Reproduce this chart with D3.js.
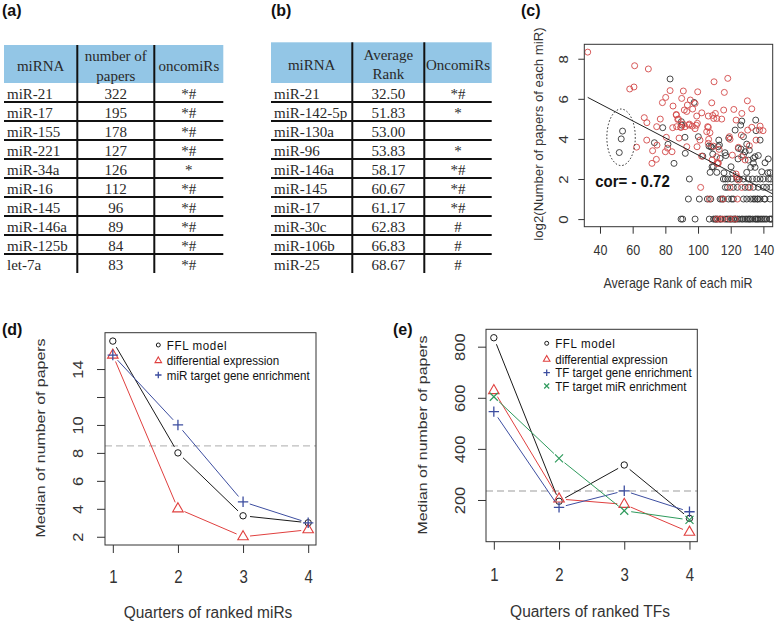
<!DOCTYPE html>
<html><head><meta charset="utf-8">
<script src="https://cdn.jsdelivr.net/npm/d3@7"></script>
<style>body{margin:0;background:#fff;} svg{display:block;}</style>
</head><body><svg id="fig" width="777" height="624"></svg>
<script>
// ---------------- DATA ----------------
const tableA_mirna  = ["miR-21","miR-17","miR-155","miR-221","miR-34a","miR-16","miR-145","miR-146a","miR-125b","let-7a"];
const tableA_papers = ["322","195","178","127","126","112","96","89","84","83"];
const tableA_onco   = ["*#","*#","*#","*#","*","*#","*#","*#","*#","*#"];
const tableB_mirna  = ["miR-21","miR-142-5p","miR-130a","miR-96","miR-146a","miR-145","miR-17","miR-30c","miR-106b","miR-25"];
const tableB_rank   = ["32.50","51.83","53.00","53.83","58.17","60.67","61.17","62.83","66.83","68.67"];
const tableB_onco   = ["*#","*","","*","*#","*#","*#","#","#","#"];

const cTicksX = [40,60,80,100,120,140];
const cTicksY = [0,2,4,6,8];
const corLabel = "cor= - 0.72";
const fitIntercept = 7.454, fitSlope = -0.04255;
const circledCenter = [52.9, 4.08], circledRadii = [8.7, 1.41];

const redPoints = [
 [32.5,8.33],[61.2,7.65],[69.6,7.49],[58.2,6.49],[60.8,6.59],[62.4,3.59],[67.1,5.06],[68.7,4.81],[68.6,3.94],
 [71.8,2.78],[74.5,2.98],[72.2,3.41],[74.7,4.61],[76.9,4.99],[74.9,3.69],[78.2,5.81],[80.2,6.07],[80.0,3.36],
 [80.6,4.08],[81.4,3.54],[82.9,6.41],[84.1,3.36],[84.7,5.64],[84.5,4.56],[86.7,5.19],[86.9,4.61],[88.0,4.99],
 [89.6,4.58],[90.0,6.02],[91.0,6.39],[91.0,4.73],[91.6,5.44],[88.4,4.04],[93.5,5.69],[95.3,5.94],[93.1,3.61],
 [94.5,4.69],[93.1,5.37],[96.7,5.49],[98.2,5.77],[99.2,5.14],[99.0,4.68],[99.6,4.78],[99.8,6.35],[99.4,3.61],
 [102.3,5.30],[102.2,3.14],[101.6,1.58],[105.3,4.36],[105.9,4.61],[106.5,3.98],[107.3,4.31],[108.4,5.80],
 [109.0,5.17],[109.8,6.85],[109.4,3.64],[110.6,5.27],[109.6,5.02],[111.5,5.02],[111.4,3.11],[111.8,2.78],
 [112.9,3.48],[114.5,4.99],[115.7,5.44],[116.1,6.32],[118.2,7.02],[119.6,3.98],[119.2,4.11],[121.9,5.47],
 [121.0,3.19],[123.3,4.94],[123.3,2.25],[124.7,3.58],[126.8,5.27],[126.5,4.19],[126.7,3.11],[130.2,5.90],
 [130.4,4.44],[131.4,3.66],[132.9,5.50],[132.9,4.58],[135.5,3.94],[138.0,4.64],[139.8,4.41],[137.6,4.44],
 [126.7,1.58],[131.8,1.58],[119.6,1.58],[106.9,1.0],[115.3,1.0],[124.1,1.0],[111.4,0],[113.1,0],[115.1,0],
 [119.6,0],[122.7,0],[108.6,2.95],[112.2,2.81],[123.7,2.11],[128.8,2.95],[101.2,3.94],[106.3,3.78],
 [112.4,2.78],[124.7,1.95],[106.3,5.14],[86.7,5.22],[87.6,4.97],[89.4,4.58],[92.1,4.61],[94.7,4.74],
 [96.5,4.64],[98.2,4.51],[106.3,4.58]
];
const blackPoints = [
 [82.9,6.99],[97.6,5.82],[78.4,4.56],[73.3,3.81],[81.6,3.73],[85.3,2.78],[89.8,4.86],[90.0,4.69],[92.0,4.08],
 [92.2,3.28],[94.7,2.0],[100.2,4.11],[102.9,3.14],[106.7,3.64],[107.8,3.61],[108.4,3.58],[109.0,3.24],
 [108.6,2.61],[112.4,3.61],[112.7,3.94],[113.1,3.69],[113.5,3.03],[115.9,2.31],[116.5,3.31],[118.8,4.04],
 [120.2,2.61],[121.2,2.28],[124.7,3.53],[126.1,4.69],[126.3,3.49],[126.8,4.89],[127.8,4.11],[127.8,3.19],
 [128.8,3.36],[129.8,2.33],[129.8,3.74],[130.8,2.94],[131.4,3.44],[132.2,2.58],[133.9,3.03],[133.9,2.78],
 [134.9,3.11],[134.9,2.58],[135.3,4.94],[135.5,4.41],[138.0,3.94],[139.0,2.36],[141.0,2.81],[142.7,2.31],
 [144.1,2.32],[122.7,4.44],[51.8,3.32],[53.0,4.0],[53.8,4.39],[107.4,2.33],[111.5,2.33],[109.4,2.61],
 [117.0,3.17],[124.5,3.0],[136.9,3.17],[143.0,3.0],
 [115.5,2],[116.7,2],[118.2,2],[120.6,2],[123.7,2],[125.3,2],[127.8,2],[130.8,2],[133.3,2],[135.9,2],[138.0,2],
 [140.0,2],[143.1,2],[144.5,2],
 [116.7,1.585],[118.0,1.585],[121.6,1.585],[124.1,1.585],[128.8,1.585],[130.8,1.585],[133.9,1.585],
 [136.9,1.585],[140.0,1.585],[142.0,1.585],[144.5,1.585],
 [94.1,1],[100.8,1],[105.7,1],[107.8,1],[113.5,1],[114.5,1],[115.5,1],[118.6,1],[120.6,1],[121.6,1],[127.8,1],
 [129.8,1],[132.2,1],[133.9,1],[134.9,1],[136.3,1],[136.6,1],[138.0,1],[140.6,1],[141.0,1],[144.1,1],
 [89.6,0],[90.6,0],[98.2,0],[106.9,0],[109.5,0],[110.5,0],[111.0,0],[112.0,0],[113.5,0],[114.0,0],[116.5,0],
 [117.6,0],[118.5,0],[119.6,0],[120.5,0],[121.6,0],[122.5,0],[123.0,0],[124.1,0],[125.3,0],[126.7,0],[127.5,0],
 [128.8,0],[129.8,0],[130.8,0],[131.5,0],[132.2,0],[133.5,0],[134.9,0],[135.5,0],[136.3,0],[137.0,0],[138.0,0],
 [139.0,0],[140.0,0],[141.0,0],[142.0,0],[143.7,0],[144.5,0],[145.1,0]
];

const quarters = [1,2,3,4];
const dTicksY = [2,4,6,8,10,12,14];
const dFFL    = [16, 8, 3.5, 3];
const dDiff   = [15, 4, 2, 2.5];
const dTarget = [15, 10, 4.5, 3];
const dBaseline = 8.5;
const dLegend = ["FFL model","differential expression","miR target gene enrichment"];

const eTicksY = [200,400,600,800];
const eFFL    = [835, 195, 337, 128];
const eDiff   = [628, 204, 183, 74];
const eTFgene = [546, 171, 236, 154];
const eTFmiR  = [604, 363, 158, 122];
const eBaseline = 235;
const eLegend = ["FFL model","differential expression","TF target gene enrichment","TF target miR enrichment"];

// ---------------- STYLE ----------------
const SANS = "'Liberation Sans', Arial, sans-serif";
const SERIF = "'Liberation Serif', 'Times New Roman', serif";
const HEADER_BLUE = "#93c6e6";
const RED = "#e0403f", BLUE = "#3d4ea0", GREEN = "#2e9a5c", BLK = "#1a1a1a", AX = "#333";
const SC_RED = "#d24848", SC_BLK = "#333";

const svg = d3.select("#fig");
svg.append("rect").attr("width",777).attr("height",624).attr("fill","#fff");

function label(g, x, y, s, o = {}) {
  const k = o.k || 1;
  return g.append("text")
    .attr("transform", `translate(${x},${y})` + (o.rot ? ` rotate(-90) scale(${k},1)` : ` scale(1,${k})`))
    .attr("text-anchor", o.anchor || "middle")
    .attr("dy", o.dy != null ? o.dy : "0.35em")
    .attr("font-family", o.font || SANS)
    .attr("font-size", o.size || 12)
    .attr("font-weight", o.weight || "normal")
    .attr("letter-spacing", o.ls || 0)
    .attr("fill", o.fill || "#222")
    .text(s);
}

// panel letters
[["(a)",2,16],["(b)",271,16],["(c)",521,16],["(d)",2,335],["(e)",393,335]].forEach(([s,x,y]) =>
  label(svg, x, y, s, {anchor:"start", dy:0, weight:"bold", size:16, fill:"#111"}));

// ---------------- TABLES ----------------
function drawTable(cols, top, headers, columns) {
  const g = svg.append("g");
  const rowY = d3.scaleBand().domain(d3.range(columns[0].length)).range([83, 273]);
  g.append("rect").attr("x", cols[0]).attr("y", top).attr("width", cols[3]-cols[0])
    .attr("height", 83-top).attr("fill", HEADER_BLUE);
  headers.forEach((h, j) => {
    const cx = (cols[j] + cols[j+1]) / 2;
    h.lines.forEach((ln, i) => label(g, cx, h.ys[i], ln, {font:SERIF, size:15, fill:"#2a2a2a"}));
  });
  columns.forEach((arr, j) => arr.forEach((v, i) => {
    const y = rowY(i) + rowY.bandwidth()/2 + 1;
    if (j === 0) label(g, cols[0]+3, y, v, {anchor:"start", font:SERIF, size:15, fill:"#2a2a2a"});
    else label(g, (cols[j]+cols[j+1])/2, y, v, {font:SERIF, size:15, fill:"#2a2a2a"});
  }));
  d3.range(columns[0].length - 1).forEach(i => {
    const y = rowY(i) + rowY.bandwidth();
    g.append("line").attr("x1", cols[0]).attr("x2", cols[3]).attr("y1", y).attr("y2", y)
      .attr("stroke", "#111").attr("stroke-width", 2);
  });
  [cols[1], cols[2]].forEach(x => g.append("line").attr("x1", x).attr("x2", x)
    .attr("y1", top).attr("y2", 273).attr("stroke", "#111").attr("stroke-width", 2));
}
drawTable([4, 77.3, 154.3, 223.3], 45,
  [{lines:["miRNA"], ys:[66]}, {lines:["number of","papers"], ys:[56,75.5]}, {lines:["oncomiRs"], ys:[66]}],
  [tableA_mirna, tableA_papers, tableA_onco]);
drawTable([271, 352.3, 424.3, 491.7], 42.3,
  [{lines:["miRNA"], ys:[64.5]}, {lines:["Average","Rank"], ys:[55,73.5]}, {lines:["OncomiRs"], ys:[65]}],
  [tableB_mirna, tableB_rank, tableB_onco]);

// ---------------- AXIS HELPERS ----------------
function styleAxisX(sel, off, size, k) {
  sel.select(".domain").remove();
  sel.selectAll(".tick line").attr("stroke", AX);
  sel.selectAll(".tick text").attr("y", 0).attr("dy", "0.35em")
    .attr("transform", `translate(0,${off}) scale(1,${k})`)
    .attr("font-size", size).attr("font-family", SANS).attr("fill", AX);
}
function styleAxisY(sel, off, size, k) {
  sel.select(".domain").remove();
  sel.selectAll(".tick line").attr("stroke", AX);
  sel.selectAll(".tick text").attr("x", 0).attr("dy", "0.35em").attr("text-anchor", "middle")
    .attr("transform", `translate(${-off},0) rotate(-90) scale(${k},1)`)
    .attr("font-size", size).attr("font-family", SANS).attr("fill", AX);
}
function box(g, x, y) {
  g.append("rect").attr("x", x.range()[0]).attr("y", y.range()[1])
    .attr("width", x.range()[1]-x.range()[0]).attr("height", y.range()[0]-y.range()[1])
    .attr("fill", "none").attr("stroke", AX).attr("stroke-width", 1);
}

// ---------------- PANEL C ----------------
(function() {
  const g = svg.append("g");
  const x = d3.scaleLinear().domain([30.4, 145.7]).range([584.3, 772.7]);
  const y = d3.scaleLinear().domain([-0.38, 8.72]).range([226.7, 44.3]);
  svg.append("defs").append("clipPath").attr("id","clipC").append("rect")
    .attr("x", x.range()[0]).attr("y", y.range()[1])
    .attr("width", x.range()[1]-x.range()[0]).attr("height", y.range()[0]-y.range()[1]);
  const pg = g.append("g").attr("clip-path","url(#clipC)");
  pg.selectAll("circle.b").data(blackPoints).join("circle").attr("class","b")
    .attr("cx", d => x(d[0])).attr("cy", d => y(d[1])).attr("r", 3)
    .attr("fill","none").attr("stroke", SC_BLK).attr("stroke-width", 0.9);
  pg.selectAll("circle.r").data(redPoints).join("circle").attr("class","r")
    .attr("cx", d => x(d[0])).attr("cy", d => y(d[1])).attr("r", 3)
    .attr("fill","none").attr("stroke", SC_RED).attr("stroke-width", 0.9);
  const x0 = 32.5, x1 = 150;
  pg.append("line").attr("x1", x(x0)).attr("y1", y(fitIntercept + fitSlope*x0))
    .attr("x2", x(x1)).attr("y2", y(fitIntercept + fitSlope*x1)).attr("stroke", "#222").attr("stroke-width", 1);
  g.append("ellipse").attr("cx", x(circledCenter[0])).attr("cy", y(circledCenter[1]))
    .attr("rx", x(circledCenter[0]+circledRadii[0]) - x(circledCenter[0]))
    .attr("ry", y(circledCenter[1]) - y(circledCenter[1]+circledRadii[1]))
    .attr("fill","none").attr("stroke","#222").attr("stroke-width",1).attr("stroke-dasharray","1.5,2");
  box(g, x, y);
  g.append("g").attr("transform", `translate(0,${y.range()[0]})`)
    .call(d3.axisBottom(x).tickValues(cTicksX).tickSize(7).tickSizeOuter(0))
    .call(s => styleAxisX(s, 23.3, 12.5, 1.2));
  g.append("g").attr("transform", `translate(${x.range()[0]},0)`)
    .call(d3.axisLeft(y).tickValues(cTicksY).tickSize(6).tickSizeOuter(0))
    .call(s => styleAxisY(s, 21, 12.5, 1.2));
  label(g, 678, 283.5, "Average Rank of each miR", {size:12.5, k:1.12, fill:AX});
  label(g, 539, 134, "log2(Number of papers of each miR)", {size:12, k:1.1, rot:true, fill:AX});
  label(g, 632.5, 181, corLabel, {size:15, k:1.15, weight:"bold", fill:"#111"});
})();

// ---------------- LINE PANELS ----------------
function marker(g, type, cx, cy, color, s) {
  if (type === "circle") {
    g.append("circle").attr("cx", cx).attr("cy", cy).attr("r", 3.2*s)
      .attr("fill","none").attr("stroke", color).attr("stroke-width", 1);
  } else if (type === "tri") {
    g.append("path").attr("transform", `translate(${cx},${cy})`)
      .attr("d", d3.symbol().type(d3.symbolTriangle).size(48*s*s)())
      .attr("fill","none").attr("stroke", color).attr("stroke-width", 1.1);
  } else if (type === "plus") {
    const h = 5.2*s;
    g.append("path").attr("d", `M${cx-h},${cy}H${cx+h}M${cx},${cy-h}V${cy+h}`)
      .attr("stroke", color).attr("stroke-width", 1.3).attr("fill","none");
  } else {
    const h = 4*s;
    g.append("path").attr("d", `M${cx-h},${cy-h}L${cx+h},${cy+h}M${cx-h},${cy+h}L${cx+h},${cy-h}`)
      .attr("stroke", color).attr("stroke-width", 1.2).attr("fill","none");
  }
}
function series(g, x, y, vals, color, type) {
  const pts = quarters.map((q, i) => [x(q), y(vals[i])]);
  const gap = 7;
  for (let i = 0; i < pts.length - 1; i++) {
    const [ax, ay] = pts[i], [bx, by] = pts[i+1];
    const len = Math.hypot(bx-ax, by-ay);
    if (len <= 2*gap) continue;
    const ux = (bx-ax)/len, uy = (by-ay)/len;
    g.append("line").attr("x1", ax+ux*gap).attr("y1", ay+uy*gap)
      .attr("x2", bx-ux*gap).attr("y2", by-uy*gap).attr("stroke", color).attr("stroke-width", 1);
  }
  pts.forEach(p => marker(g, type, p[0], p[1], color, 1));
}
function linePanel(cfg) {
  const g = svg.append("g");
  const x = d3.scaleLinear().domain([0.88, 4.12]).range(cfg.xr);
  const y = d3.scaleLinear().domain(cfg.yd).range(cfg.yr);
  g.append("line").attr("x1", x.range()[0]).attr("x2", x.range()[1])
    .attr("y1", y(cfg.base)).attr("y2", y(cfg.base))
    .attr("stroke", "#bdbdbd").attr("stroke-width", 1.4).attr("stroke-dasharray", "7,4");
  cfg.series.forEach(s => series(g, x, y, s.vals, s.color, s.type));
  box(g, x, y);
  g.append("g").attr("transform", `translate(0,${y.range()[0]})`)
    .call(d3.axisBottom(x).tickValues(quarters).tickSize(8).tickSizeOuter(0).tickFormat(d3.format("d")))
    .call(s => styleAxisX(s, cfg.xlabOff, 15, 1.18));
  g.append("g").attr("transform", `translate(${x.range()[0]},0)`)
    .call(d3.axisLeft(y).tickValues(cfg.yticks).tickSize(8).tickSizeOuter(0).tickFormat(cfg.yfmt))
    .call(s => styleAxisY(s, cfg.ylabOff, 14, 1.18));
  label(g, cfg.xTitle[1], cfg.xTitle[2], cfg.xTitle[0], {size:15.5, k:1.1, fill:AX});
  label(g, cfg.yTitle[1], cfg.yTitle[2], cfg.yTitle[0], {size:13.5, k:1.18, rot:true, fill:AX});
  cfg.legend.forEach((t, i) => {
    const s = cfg.series[i];
    const ly = cfg.legY[i];
    marker(g, s.type, cfg.legX, ly, s.color, 0.62);
    label(g, cfg.legX + 8.5, ly, t, {anchor:"start", size:11.6, k:1.12, fill:"#111", ls: i === 0 ? 0.6 : 0});
  });
}
linePanel({
  xr:[105, 316], yd:[1.41, 16.6], yr:[545, 332.7], base:dBaseline, yticks:dTicksY,
  yfmt: d => d === 12 ? "" : d, xlabOff:31.7, ylabOff:27,
  series:[{vals:dFFL, color:BLK, type:"circle"}, {vals:dDiff, color:RED, type:"tri"}, {vals:dTarget, color:BLUE, type:"plus"}],
  legend:dLegend, legX:158.3, legY:[345, 360.7, 375],
  xTitle:["Quarters of ranked miRs", 208, 612], yTitle:["Median of number of papers", 40.5, 438]
});
linePanel({
  xr:[486, 697.3], yd:[36.8, 868], yr:[541.7, 329.3], base:eBaseline, yticks:eTicksY,
  yfmt: d => d, xlabOff:33.3, ylabOff:26,
  series:[{vals:eFFL, color:BLK, type:"circle"}, {vals:eDiff, color:RED, type:"tri"},
          {vals:eTFgene, color:BLUE, type:"plus"}, {vals:eTFmiR, color:GREEN, type:"x"}],
  legend:eLegend, legX:546.7, legY:[343.3, 359.3, 372.7, 386],
  xTitle:["Quarters of ranked TFs", 590, 611.5], yTitle:["Median of number of papers", 422.5, 435]
});
</script></body></html>
